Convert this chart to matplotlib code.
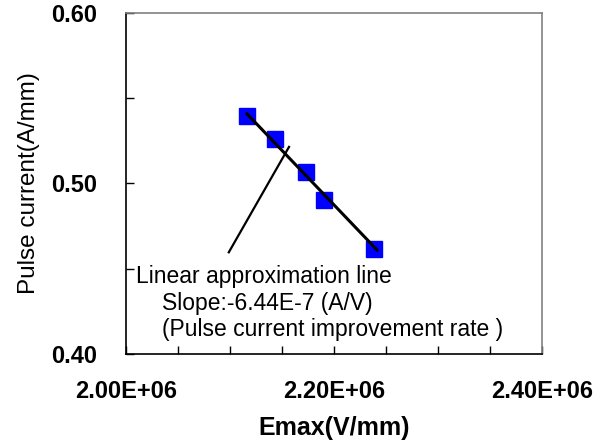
import numpy as np
import matplotlib
matplotlib.use("Agg")
import matplotlib.pyplot as plt

plt.rcParams["font.family"] = ["Liberation Sans", "DejaVu Sans"]

emax = [2.1166e6, 2.1430e6, 2.1730e6, 2.1900e6, 2.2388e6]
pulse_current = [0.5394, 0.5259, 0.5067, 0.4903, 0.4616]

# 선형 근사선 양 끝점
fit_x = [2.1163e6, 2.2413e6]
fit_y = [0.5408, 0.4610]

# 주석 지시선
leader_x = [2.0988e6, 2.1567e6]
leader_y = [0.4596, 0.5214]

x_ticks = [2.00e6, 2.05e6, 2.10e6, 2.15e6, 2.20e6, 2.25e6, 2.30e6, 2.35e6, 2.40e6]
x_ticklabels = ["2.00E+06", "", "", "", "2.20E+06", "", "", "", "2.40E+06"]
y_ticks = [0.40, 0.45, 0.50, 0.55, 0.60]
y_ticklabels = ["0.40", "", "0.50", "", "0.60"]

note_lines = [
    "Linear approximation line",
    "Slope:-6.44E-7 (A/V)",
    "(Pulse current improvement rate )",
]

fig = plt.figure(figsize=(6.03, 4.43), dpi=100)
ax = fig.add_axes([0.209, 0.201, 0.690, 0.770])

ax.plot(emax, pulse_current, "s", color="#0000FF", markersize=12, zorder=2)
ax.plot(fit_x, fit_y, "-", color="black", linewidth=2.2, zorder=3)
ax.plot(leader_x, leader_y, "-", color="black", linewidth=1.6, zorder=3)

ax.set_xlim(2.0e6, 2.4e6)
ax.set_ylim(0.40, 0.60)
ax.set_xticks(x_ticks)
ax.set_xticklabels(x_ticklabels, fontsize=17, fontweight="bold")
ax.set_yticks(y_ticks)
ax.set_yticklabels(y_ticklabels, fontsize=17, fontweight="bold")
ax.tick_params(axis="x", direction="in", length=6, width=1, pad=19)
ax.tick_params(axis="y", direction="in", length=6, width=1, pad=21)

for side in ["left", "bottom"]:
    ax.spines[side].set_color("black")
    ax.spines[side].set_linewidth(1.2)
for side in ["top", "right"]:
    ax.spines[side].set_color("#808080")
    ax.spines[side].set_linewidth(1.2)

ax.set_xlabel("Emax(V/mm)", fontsize=18, fontweight="bold", labelpad=9)
ax.set_ylabel("Pulse current(A/mm)", fontsize=17.5, labelpad=8)

# 주석 텍스트
ax.text(0.024, 0.208, note_lines[0], transform=ax.transAxes, fontsize=16.5, va="baseline")
ax.text(0.087, 0.129, note_lines[1], transform=ax.transAxes, fontsize=16.5, va="baseline")
ax.text(0.087, 0.053, note_lines[2], transform=ax.transAxes, fontsize=16.5, va="baseline")

fig.savefig("out.png", dpi=100)
